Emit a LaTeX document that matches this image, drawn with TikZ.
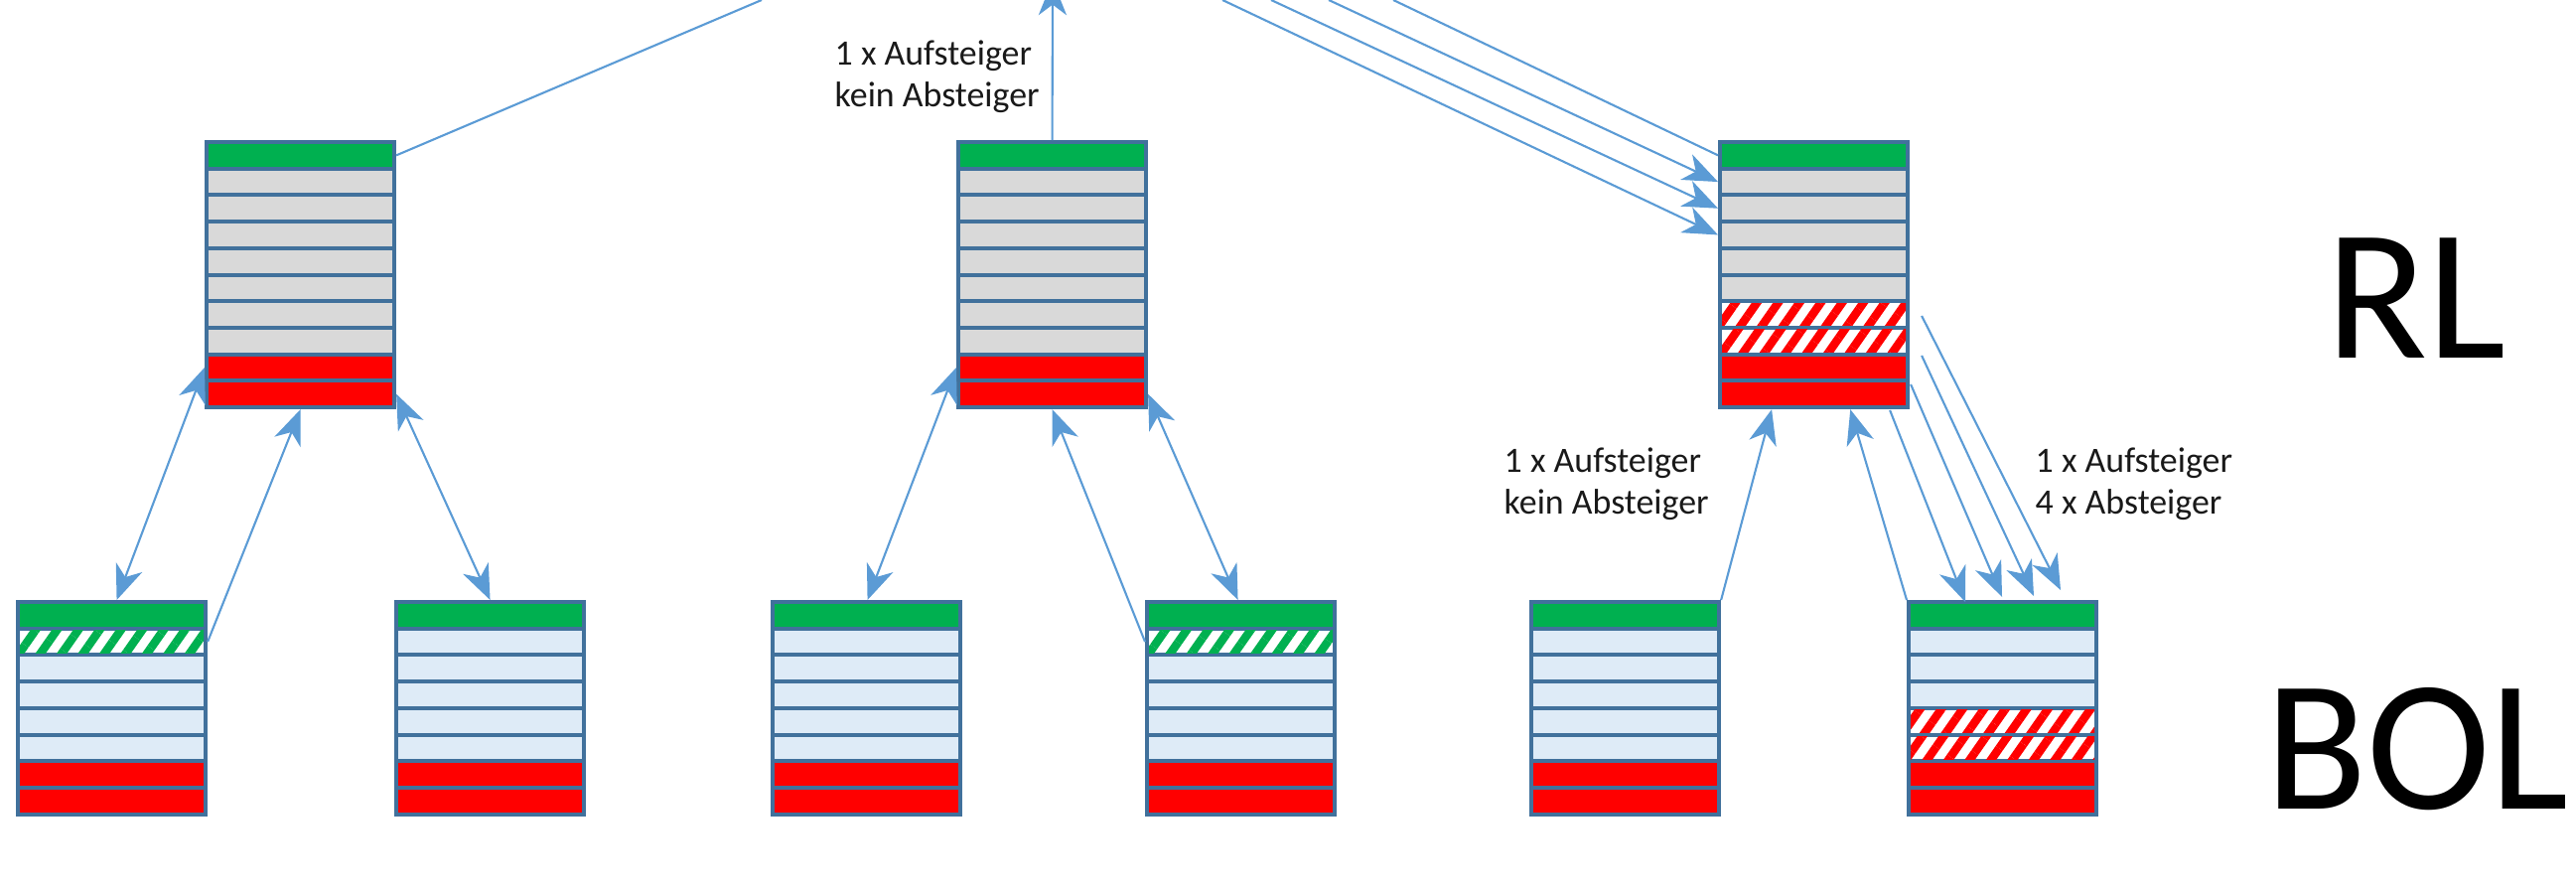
\documentclass[tikz,border=0pt]{standalone}
\usepackage{fontspec}
\setmainfont{Carlito}
\usetikzlibrary{arrows.meta,calc,patterns.meta}

\definecolor{cGruen}{HTML}{00B050}
\definecolor{cGrau}{HTML}{D9D9D9}
\definecolor{cBlau}{HTML}{DEEBF7}
\definecolor{cRot}{HTML}{FF0000}
\definecolor{cRand}{HTML}{41719C}
\definecolor{cPfeil}{HTML}{5B9BD5}

\tikzset{
	rahmen/.style={rectangle, fill=cRand, inner sep=0pt, outer sep=0pt, minimum width=1.93cm, anchor=north west},
	zeile/.style={rectangle, inner sep=0pt, outer sep=0pt, minimum width=1.85cm, minimum height=0.227cm, anchor=north west},
	gruen/.style={fill=cGruen},
	grau/.style={fill=cGrau},
	blau/.style={fill=cBlau},
	rot/.style={fill=cRot},
	gstreif/.style={preaction={fill=white}, pattern={Lines[angle=55, distance=5pt, line width=2.4pt]}, pattern color=cGruen},
	rstreif/.style={preaction={fill=white}, pattern={Lines[angle=55, distance=5pt, line width=2.4pt]}, pattern color=cRot},
	linie/.style={draw=cPfeil, line width=0.6pt},
	pfeil/.style={linie, -{Stealth[length=10pt, width=8pt, inset=3pt]}},
	doppel/.style={linie, {Stealth[length=10pt, width=8pt, inset=3pt]}-{Stealth[length=10pt, width=8pt, inset=3pt]}},
	beschr/.style={align=left, inner sep=0pt, text=black!90, font=\fontsize{10.2}{11.9}\selectfont},
	gross/.style={inner sep=0pt, font=\fontsize{53.5}{60}\selectfont},
}

% #1 Name, #2 x, #3 y, #4 Zeilen, #5 Zeilenstile
\newcommand{\stapel}[5]{
	\node[rahmen, minimum height={#4*0.267cm+0.04cm}] (#1) at (#2,#3) {};
	\foreach \typ [count=\i] in {#5}
		\node[zeile, \typ] (#1-\i) at ($(#1.north west)+(4,{4+(\i-1)*26.7})$) {};
}

\begin{document}
\begin{tikzpicture}[x=0.01cm, y=-0.01cm]
	\useasboundingbox (0,0) rectangle (2594,900);
	\clip (0,0) rectangle (2594,900);

	% RL
	\stapel{RL1}{206}{141}{10}{gruen,grau,grau,grau,grau,grau,grau,grau,rot,rot}
	\stapel{RL2}{963}{141}{10}{gruen,grau,grau,grau,grau,grau,grau,grau,rot,rot}
	\stapel{RL3}{1730}{141}{10}{gruen,grau,grau,grau,grau,grau,rstreif,rstreif,rot,rot}
	% BOL
	\stapel{BOL1}{16}{604}{8}{gruen,gstreif,blau,blau,blau,blau,rot,rot}
	\stapel{BOL2}{397}{604}{8}{gruen,blau,blau,blau,blau,blau,rot,rot}
	\stapel{BOL3}{776}{604}{8}{gruen,blau,blau,blau,blau,blau,rot,rot}
	\stapel{BOL4}{1153}{604}{8}{gruen,gstreif,blau,blau,blau,blau,rot,rot}
	\stapel{BOL5}{1540}{604}{8}{gruen,blau,blau,blau,blau,blau,rot,rot}
	\stapel{BOL6}{1920}{604}{8}{gruen,blau,blau,blau,rstreif,rstreif,rot,rot}

	% Gruppe 1
	\coordinate (aus1) at (767,0);
	\draw[doppel] (RL1.west |- RL1-9) -- ($(BOL1.north)+(5,0)$);
	\draw[pfeil] (BOL1.east |- BOL1-2) -- (RL1.south);
	\draw[doppel] (RL1.east |- RL1-10) -- (BOL2.north);
	\draw[linie] (RL1.east |- RL1-1) -- (aus1);

	% Gruppe 2
	\coordinate (aus2) at (1060,-20);
	\draw[doppel] (RL2.west |- RL2-9) -- ($(BOL3.north)+(1,0)$);
	\draw[pfeil] (BOL4.west |- BOL4-2) -- (RL2.south);
	\draw[doppel] (RL2.east |- RL2-10) -- ($(BOL4.north)+(-3,0)$);
	\draw[pfeil] (RL2.north) -- (aus2);
	\node[beschr, anchor=base west] (txt1) at (840,107) {1 x Aufsteiger\\kein Absteiger};

	% Gruppe 3
	\coordinate (ein1) at (1403,0);
	\draw[linie] (ein1) -- (RL3.west |- RL3-1);
	\foreach \z/\xs in {2/1338, 3/1280, 4/1231} {
		\coordinate (ein\z) at (\xs,0);
		\draw[pfeil] (ein\z) -- (RL3.west |- RL3-\z);
	}
	\draw[pfeil] (BOL5.north east) -- ($(RL3.south west)!0.28!(RL3.south east)$);
	\draw[pfeil] (BOL6.north west) -- ($(RL3.south west)!0.69!(RL3.south east)$);
	\draw[pfeil] ($(RL3.north east)+(12,177)$) -- ($(BOL6.north west)+(155,-10)$);
	\draw[pfeil] ($(RL3.north east)+(12,217)$) -- ($(BOL6.north west)+(128,-4)$);
	\draw[pfeil] ($(RL3.north east)+(1,246)$) -- ($(BOL6.north west)+(96,-3)$);
	\draw[pfeil] ($(RL3.north east)+(-20,272)$) -- ($(BOL6.north west)+(59,2)$);
	\node[beschr, anchor=base west] (txt2) at (1514,517) {1 x Aufsteiger\\kein Absteiger};
	\node[beschr, anchor=base west] (txt3) at (2049,517) {1 x Aufsteiger\\4 x Absteiger};

	% Ebenen
	\node[gross, anchor=base] (txtRL) at (2433,360) {RL};
	\node[gross, anchor=base] (txtBOL) at (2434,814) {BOL};
\end{tikzpicture}
\end{document}
